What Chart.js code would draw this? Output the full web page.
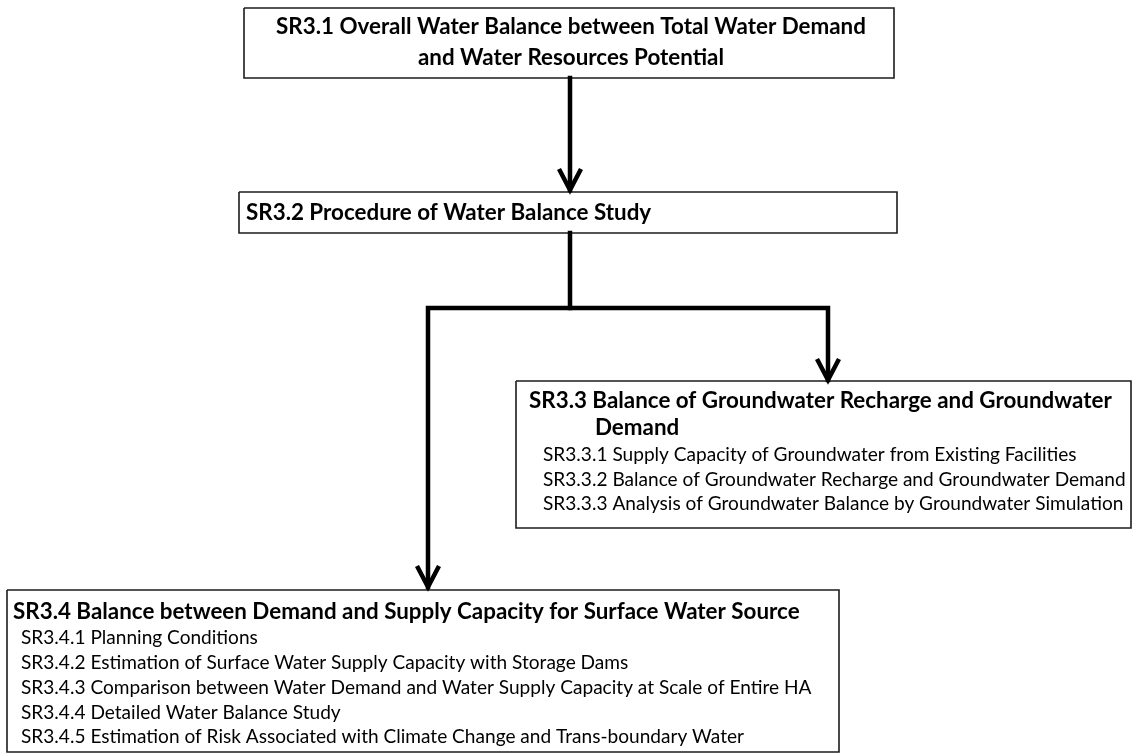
<!DOCTYPE html>
<html>
<head>
<meta charset="utf-8">
<title>Water balance study flow</title>
<script src="https://cdn.jsdelivr.net/npm/chart.js@4.4.1/dist/chart.umd.min.js"></script>
<style>
  html, body { margin: 0; padding: 0; background: #fff; overflow: hidden; }
  #wrap { position: relative; width: 1132px; height: 753px; }
</style>
</head>
<body>
<div id="wrap"><canvas id="flow" width="1132" height="753"></canvas></div>
<script>
/* Water balance study procedure — flow diagram drawn on a Chart.js scatter canvas */

// ---- content ----
const STEP_IDS = ['SR3.1', 'SR3.2', 'SR3.3', 'SR3.4'];

const STEP_TITLES = [
  ['SR3.1 Overall Water Balance between Total Water Demand', 'and Water Resources Potential'],
  ['SR3.2 Procedure of Water Balance Study'],
  ['SR3.3 Balance of Groundwater Recharge and Groundwater', 'Demand'],
  ['SR3.4 Balance between Demand and Supply Capacity for Surface Water Source'],
];

const SR33_ITEMS = [
  'SR3.3.1 Supply Capacity of Groundwater from Existing Facilities',
  'SR3.3.2 Balance of Groundwater Recharge and Groundwater Demand',
  'SR3.3.3 Analysis of Groundwater Balance by Groundwater Simulation',
];

const SR34_ITEMS = [
  'SR3.4.1 Planning Conditions',
  'SR3.4.2 Estimation of Surface Water Supply Capacity with Storage Dams',
  'SR3.4.3 Comparison between Water Demand and Water Supply Capacity at Scale of Entire HA',
  'SR3.4.4 Detailed Water Balance Study',
  'SR3.4.5 Estimation of Risk Associated with Climate Change and Trans-boundary Water',
];

const FLOW_LINKS = [['SR3.1', 'SR3.2'], ['SR3.2', 'SR3.3'], ['SR3.2', 'SR3.4']];

// ---- layout (page units, mapped through the hidden x / y scales) ----
const BOXES = {
  'SR3.1': { x0: 244, x1: 894, y0: 8,   y1: 78  },
  'SR3.2': { x0: 239, x1: 897, y0: 192, y1: 233 },
  'SR3.3': { x0: 516, x1: 1131, y0: 381, y1: 528 },
  'SR3.4': { x0: 7,   x1: 839, y0: 590, y1: 752 },
};

// title lines: [x, y, align]
const TITLE_POS = {
  'SR3.1': [[571, 27, 'center'], [571, 58, 'center']],
  'SR3.2': [[246, 213, 'left']],
  'SR3.3': [[529, 401, 'left'], [595, 428, 'left']],
  'SR3.4': [[13, 612, 'left']],
};

const ITEM_POS = {
  'SR3.3': { x: 543, y: 455, step: 24.5 },
  'SR3.4': { x: 21,  y: 638, step: 24.8 },
};

// connector paths; the last point of an arrowed path is its tip
const LINK_PATHS = {
  'SR3.1>SR3.2': [[570, 78], [570, 190]],
  'SR3.2>SR3.3': [[570, 233], [570, 308], [828, 308], [828, 380]],
  'SR3.2>SR3.4': [[570, 308], [428, 308], [428, 587]],
};

const INK = '#000';
const FRAME = '#1c1c1c';
const FONT_FAMILY = "Lato, 'Open Sans', 'Noto Sans', sans-serif";

// size fonts so that reference lines span the widths seen in the source
function fitSize(weight, sample, targetWidth) {
  const c = document.createElement('canvas').getContext('2d');
  c.font = `${weight} 100px ${FONT_FAMILY}`;
  return 100 * targetWidth / c.measureText(sample).width;
}
const BOLD_PX = fitSize('bold', STEP_TITLES[2][0], 583);
const BODY_PX = fitSize('normal', SR33_ITEMS[1], 583);

// ---- datasets ----
const boxDatasets = STEP_IDS.map(id => {
  const b = BOXES[id];
  return {
    label: id,
    data: [
      { x: b.x0, y: b.y0 }, { x: b.x1, y: b.y0 }, { x: b.x1, y: b.y1 },
      { x: b.x0, y: b.y1 }, { x: b.x0, y: b.y0 },
    ],
    showLine: true,
    borderColor: FRAME,
    borderWidth: 1.6,
    backgroundColor: '#fff',
    fill: false,
    pointRadius: 0,
    borderJoinStyle: 'miter',
    clip: false,
  };
});

const linkDatasets = [];
FLOW_LINKS.forEach(([from, to]) => {
  const path = LINK_PATHS[from + '>' + to];
  linkDatasets.push({
    label: from + ' to ' + to,
    data: path.map(p => ({ x: p[0], y: p[1] })),
    showLine: true,
    borderColor: INK,
    borderWidth: 4.5,
    pointRadius: 0,
    borderJoinStyle: 'miter',
    borderCapStyle: 'square',
    clip: false,
  });
  // open arrow head at the tip
  const [tx, ty] = path[path.length - 1];
  linkDatasets.push({
    label: to + ' arrow',
    data: [{ x: tx - 11, y: ty - 21 }, { x: tx, y: ty }, { x: tx + 11, y: ty - 21 }],
    showLine: true,
    borderColor: INK,
    borderWidth: 4.5,
    pointRadius: 0,
    borderJoinStyle: 'miter',
    borderCapStyle: 'butt',
    clip: false,
  });
});

// ---- text plugin ----
const boxText = {
  id: 'boxText',
  afterDatasetsDraw(chart) {
    const { ctx, scales: { x, y } } = chart;
    ctx.save();
    ctx.fillStyle = INK;
    ctx.textBaseline = 'middle';
    STEP_IDS.forEach((id, i) => {
      ctx.font = `bold ${BOLD_PX}px ${FONT_FAMILY}`;
      STEP_TITLES[i].forEach((line, j) => {
        const [px, py, align] = TITLE_POS[id][j];
        ctx.textAlign = align;
        ctx.fillText(line, x.getPixelForValue(px), y.getPixelForValue(py));
      });
    });
    ctx.font = `${BODY_PX}px ${FONT_FAMILY}`;
    ctx.textAlign = 'left';
    [['SR3.3', SR33_ITEMS], ['SR3.4', SR34_ITEMS]].forEach(([id, items]) => {
      const p = ITEM_POS[id];
      items.forEach((line, k) => {
        ctx.fillText(line, x.getPixelForValue(p.x), y.getPixelForValue(p.y + k * p.step));
      });
    });
    ctx.restore();
  }
};

new Chart(document.getElementById('flow'), {
  type: 'scatter',
  data: { datasets: [...linkDatasets, ...boxDatasets] },
  options: {
    responsive: false,
    animation: false,
    devicePixelRatio: 1,
    layout: { padding: 0 },
    plugins: { legend: { display: false }, tooltip: { enabled: false } },
    scales: {
      x: { type: 'linear', min: 0, max: 1132, display: false },
      y: { type: 'linear', min: 0, max: 753, reverse: true, display: false },
    },
  },
  plugins: [boxText],
});
</script>
</body>
</html>
